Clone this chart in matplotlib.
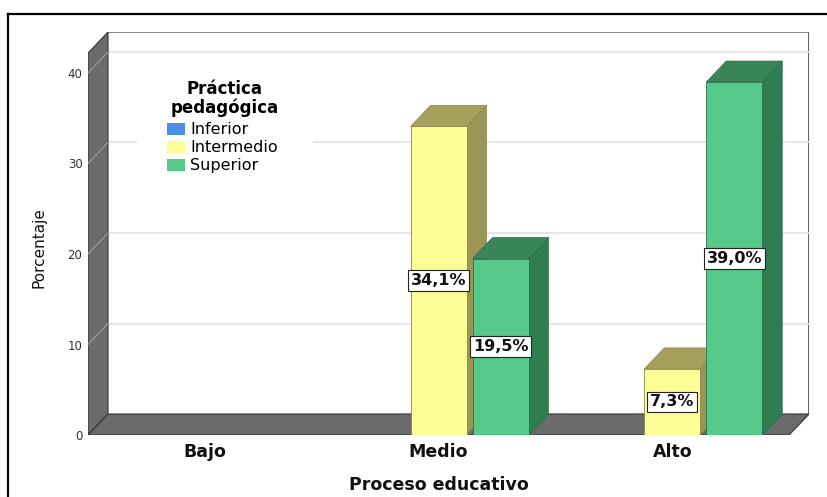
import matplotlib
matplotlib.use('Agg')
import matplotlib.pyplot as plt
from matplotlib.patches import Polygon, Rectangle
from matplotlib.lines import Line2D

# Data
categories = ['Bajo', 'Medio', 'Alto']
series_names = ['Inferior', 'Intermedio', 'Superior']
inferior = [0.0, 0.0, 0.0]
intermedio = [0.0, 34.1, 7.3]
superior = [0.0, 19.5, 39.0]
y_ticks = [0, 10, 20, 30, 40]

# colours: front, side, top
front_cols = ['#4C8FE6', '#FDFD96', '#56C98B']
side_cols = ['#2F5FA0', '#9C9656', '#2F7E50']
top_cols = ['#3C70B8', '#A6A05E', '#3A8558']
edge_cols = ['#2A4F88', '#8A8448', '#2A6E46']
wall_col = '#6B6B6B'

W, H = 827, 497
fig = plt.figure(figsize=(W / 100, H / 100), dpi=100)

# axes placed in pixels: front plane x -0.5..2.5, depth offset dx/dy
px_unit_x = 233.7
px_unit_y = 9.05
dx = 20 / px_unit_x
dy = 21 / px_unit_y
wall_top = 42.2
x_lo, x_hi = -0.5, 2.5
left_px, bottom_px = 88, 435
ax_w = (x_hi - x_lo + dx) * px_unit_x
ax_h = (wall_top + dy) * px_unit_y
ax = fig.add_axes([left_px / W, (H - bottom_px) / H, ax_w / W, ax_h / H])
ax.set_xlim(x_lo, x_hi + dx)
ax.set_ylim(0, wall_top + dy)
for s in ax.spines.values():
    s.set_visible(False)
ax.patch.set_alpha(0)

# back wall, left wall, floor
ax.add_patch(Rectangle((x_lo + dx, dy), x_hi - x_lo, wall_top, facecolor='white',
                       edgecolor='none', zorder=0))
ax.plot([x_lo + dx, x_hi + dx], [wall_top + dy, wall_top + dy], color='#8C8C8C', lw=1.5, zorder=1)
ax.plot([x_hi + dx, x_hi + dx], [dy, wall_top + dy], color='#444444', lw=1.2, zorder=1)
for t in y_ticks[1:]:
    ax.plot([x_lo + dx, x_hi + dx], [t + dy, t + dy], color='#E3E3E3', lw=1.3, zorder=1)
ax.add_patch(Polygon([(x_lo, 0), (x_lo + dx, dy), (x_lo + dx, wall_top + dy), (x_lo, wall_top)],
                     closed=True, facecolor=wall_col, edgecolor='#333333', lw=0.8, zorder=2))
for t in y_ticks[1:]:
    ax.plot([x_lo, x_lo + dx], [t, t + dy], color='#A5A5A5', lw=0.7, zorder=2)
ax.add_patch(Polygon([(x_lo, 0), (x_hi, 0), (x_hi + dx, dy), (x_lo + dx, dy)],
                     closed=True, facecolor=wall_col, edgecolor='#333333', lw=0.8, zorder=2))

# bars
bar_w = 56 / px_unit_x
step = 62 / px_unit_x
xs = list(range(len(categories)))
all_series = [inferior, intermedio, superior]
handles = []
for i, vals in enumerate(all_series):
    off = (i - 1) * step
    pos = [x + off for x in xs]
    keep = [(p, v) for p, v in zip(pos, vals) if v > 0]
    z = 3 + i
    if keep:
        bars = ax.bar([p for p, _ in keep], [v for _, v in keep], width=bar_w,
                      color=front_cols[i], edgecolor=edge_cols[i], linewidth=0.6, zorder=z + 0.5)
        for b in bars:
            x0, h = b.get_x(), b.get_height()
            x1 = x0 + b.get_width()
            ax.add_patch(Polygon([(x1, 0), (x1 + dx, dy), (x1 + dx, h + dy), (x1, h)], closed=True,
                                 facecolor=side_cols[i], edgecolor=edge_cols[i], lw=0.5, zorder=z))
            ax.add_patch(Polygon([(x0, h), (x1, h), (x1 + dx, h + dy), (x0 + dx, h + dy)], closed=True,
                                 facecolor=top_cols[i], edgecolor=edge_cols[i], lw=0.5, zorder=z))
            ax.text(b.get_x() + b.get_width() / 2, h / 2, f'{h:.1f}%'.replace('.', ','),
                    ha='center', va='center', fontsize=11.5, fontweight='bold', color='#111111',
                    zorder=10,
                    bbox=dict(boxstyle='square,pad=0.18', facecolor='white', edgecolor='#222222', lw=0.8))
    handles.append(Rectangle((0, 0), 1, 1, facecolor=front_cols[i], edgecolor='none'))

# ticks
ax.set_yticks(y_ticks)
ax.set_yticklabels([str(t) for t in y_ticks], fontsize=8.5, color='#333333')
ax.set_xticks(xs)
ax.set_xticklabels(categories, fontsize=12.5, fontweight='bold', color='#111111')
ax.tick_params(axis='y', length=0, pad=4)
ax.tick_params(axis='x', length=0, pad=6)

ax.set_xlabel('Proceso educativo', fontsize=12.5, fontweight='bold', color='#111111')
ax.xaxis.set_label_coords((1.0 - x_lo) / (x_hi - x_lo + dx), -(476 - bottom_px) / ax_h)
ax.set_ylabel('Porcentaje', fontsize=11, color='#111111')
ax.yaxis.set_label_coords(-(88 - 46) / ax_w, (bottom_px - 248) / ax_h)

# legend: white panel, title, entries
fig.add_artist(Rectangle((137 / W, 1 - 205 / H), 176 / W, 140 / H, transform=fig.transFigure,
                         facecolor='white', edgecolor='none', zorder=5))
fig.text(225 / W, 1 - 98.5 / H, 'Práctica\npedagógica', ha='center', va='center',
         fontsize=12, fontweight='bold', linespacing=1.0, zorder=6)
leg = fig.legend(handles, series_names, loc='upper left',
                 bbox_to_anchor=(167 / W, 1 - 122.5 / H), fontsize=11.5,
                 frameon=False, borderpad=0, borderaxespad=0,
                 handlelength=1.15, handleheight=0.8, handletextpad=0.3, labelspacing=0.185)
leg.set_zorder(6)

# outer frame (left and top lines)
fig.add_artist(Line2D([8 / W, 8 / W], [0, 1 - 14 / H], color='black', lw=1.6))
fig.add_artist(Line2D([8 / W, 1], [1 - 14 / H, 1 - 14 / H], color='black', lw=1.6))

fig.savefig('out.png', dpi=100)
